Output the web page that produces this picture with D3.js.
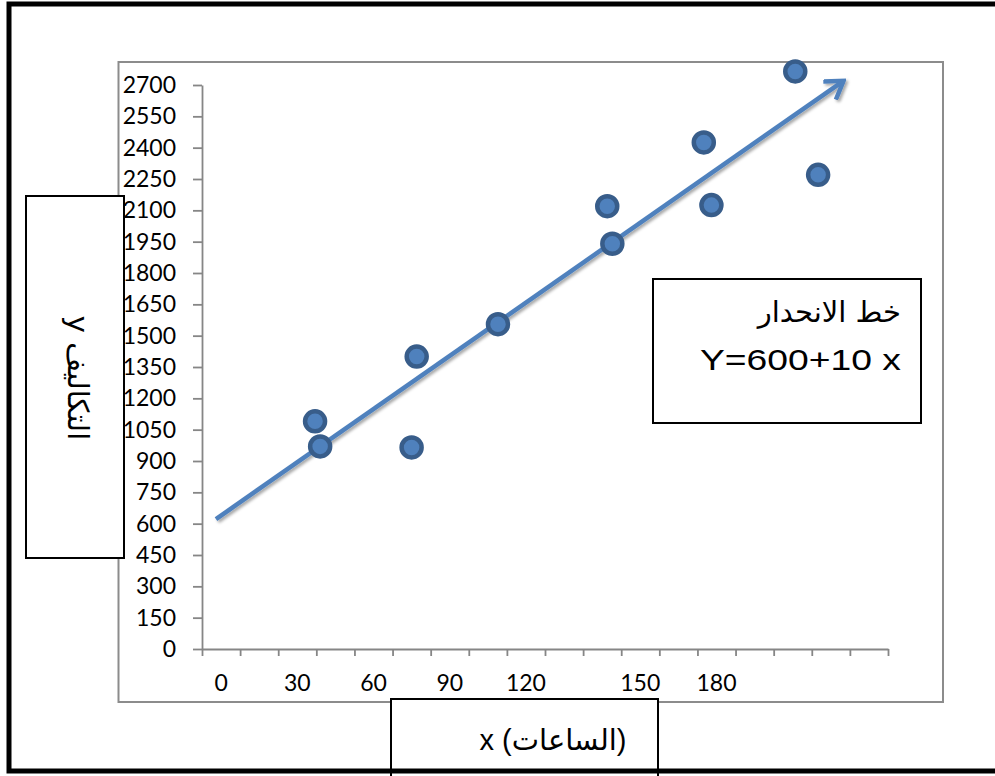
<!DOCTYPE html>
<html>
<head>
    <meta charset="utf-8">
    <title>Scatter with regression line</title>
    <script src="https://d3js.org/d3.v7.min.js"></script>
    <style>
        body { margin: 0; padding: 0; background: #fff; }
    </style>
</head>
<body>
    <div id="chart"></div>

    <script>
// x axis categories as laid out in the original sheet (blank cells included)
const xCategories = ["0", "", "30", "", "60", "", "90", "", "120", "", "", "150", "", "180", "", "", "", ""];

// observations: hours (x) and costs (y)
const hours = [37, 39, 75, 77, 109, 152, 154, 190, 193, 226, 235];
const costs = [1090, 970, 965, 1400, 1555, 2120, 1940, 2425, 2125, 2765, 2270];

// y tick labels
const yTickValues = [0, 150, 300, 450, 600, 750, 900, 1050, 1200, 1350, 1500, 1650, 1800, 1950, 2100, 2250, 2400, 2550, 2700];

// hand-drawn regression arrow: start and end
const trendHours = [-2, 245];
const trendCosts = [622, 2720];

// texts
const equationLines = ["خط الانحدار", "Y=600+10 x"];
const yTitle = "y   التكاليف";
const xTitle = "x (الساعات)";

const width = 995;
const height = 776;

// Plot geometry
const axisLeftX = 202;
const axisRightX = 888;
const axisBottomY = 649;
const axisTopY = 85;

const svg = d3.select("#chart")
  .append("svg")
    .attr("width", width)
    .attr("height", height);

const defs = svg.append("defs");

const shadow = defs.append("filter")
    .attr("id", "shadow")
    .attr("x", "-20%").attr("y", "-20%")
    .attr("width", "140%").attr("height", "140%");
shadow.append("feDropShadow")
    .attr("dx", 2).attr("dy", 2)
    .attr("stdDeviation", 1.5)
    .attr("flood-color", "#000")
    .attr("flood-opacity", 0.35);

defs.append("marker")
    .attr("id", "arrow")
    .attr("viewBox", "0 0 24 24")
    .attr("refX", 21)
    .attr("refY", 12)
    .attr("markerUnits", "userSpaceOnUse")
    .attr("markerWidth", 24)
    .attr("markerHeight", 24)
    .attr("orient", "auto")
  .append("path")
    .attr("d", "M4,1 L21,12 L4,23")
    .attr("fill", "none")
    .attr("stroke", "#4f81bd")
    .attr("stroke-width", 4.5);

// background
svg.append("rect")
    .attr("width", width)
    .attr("height", height)
    .attr("fill", "#fff");

// plot area border
svg.append("rect")
    .attr("x", 118.5)
    .attr("y", 62)
    .attr("width", 824.5)
    .attr("height", 640)
    .attr("fill", "#fff")
    .attr("stroke", "#8c8c8c")
    .attr("stroke-width", 2);

// scales
const x = d3.scaleLinear()
    .domain([-7.5, 262.5])
    .range([axisLeftX, axisRightX]);

const y = d3.scaleLinear()
    .domain([0, 2700])
    .range([axisBottomY, axisTopY]);

const slot = d3.scaleLinear()
    .domain([0, xCategories.length])
    .range([axisLeftX, axisRightX]);

const band = d3.scaleBand()
    .domain(d3.range(xCategories.length))
    .range([axisLeftX, axisRightX]);

const tickFont = "Lato, 'Open Sans', sans-serif";

// y axis
const yAxis = svg.append("g")
    .attr("transform", `translate(${axisLeftX},0)`)
    .call(d3.axisLeft(y)
        .tickValues(yTickValues)
        .tickFormat(d3.format("d"))
        .tickSize(9)
        .tickSizeOuter(0)
        .tickPadding(17));

yAxis.selectAll("text")
    .style("font-family", tickFont)
    .style("font-size", "23px")
    .attr("fill", "#000");

// x axis: tick marks between categories
svg.append("g")
    .attr("transform", `translate(0,${axisBottomY})`)
    .call(d3.axisBottom(slot)
        .tickValues(d3.range(xCategories.length + 1))
        .tickSize(7)
        .tickSizeOuter(0)
        .tickFormat(""));

// x axis: category labels
const xAxisLabels = svg.append("g")
    .attr("transform", `translate(0,${axisBottomY})`)
    .call(d3.axisBottom(band)
        .tickSize(0)
        .tickPadding(26)
        .tickFormat(i => xCategories[i]));
xAxisLabels.select(".domain").remove();
xAxisLabels.selectAll("text")
    .style("font-family", tickFont)
    .style("font-size", "23px")
    .attr("fill", "#000");

svg.selectAll(".domain, .tick line")
    .attr("stroke", "#868686")
    .attr("stroke-width", 1.8);

// regression arrow
const line = d3.line()
    .x(d => x(d[0]))
    .y(d => y(d[1]));

svg.append("path")
    .datum(d3.zip(trendHours, trendCosts))
    .attr("d", line)
    .attr("fill", "none")
    .attr("stroke", "#4f81bd")
    .attr("stroke-width", 4.5)
    .attr("marker-end", "url(#arrow)")
    .attr("filter", "url(#shadow)");

// points
svg.selectAll("circle.pt")
  .data(d3.zip(hours, costs))
  .join("circle")
    .attr("class", "pt")
    .attr("cx", d => x(d[0]))
    .attr("cy", d => y(d[1]))
    .attr("r", 10)
    .attr("fill", "#4f81bd")
    .attr("stroke", "#385d8a")
    .attr("stroke-width", 4.5);

// y title box
svg.append("rect")
    .attr("x", 26)
    .attr("y", 196)
    .attr("width", 98)
    .attr("height", 362)
    .attr("fill", "#fff")
    .attr("stroke", "#000")
    .attr("stroke-width", 2);

svg.append("text")
    .attr("transform", "translate(78,378) rotate(90)")
    .attr("text-anchor", "middle")
    .attr("dominant-baseline", "central")
    .style("font-family", "'DejaVu Sans', 'Liberation Sans', sans-serif")
    .style("font-size", "29px")
    .attr("fill", "#000")
    .text(yTitle);

// x title box
svg.append("rect")
    .attr("x", 391)
    .attr("y", 699)
    .attr("width", 267)
    .attr("height", 90)
    .attr("fill", "#fff")
    .attr("stroke", "#000")
    .attr("stroke-width", 2);

svg.append("text")
    .attr("x", 553)
    .attr("y", 750)
    .attr("text-anchor", "middle")
    .style("font-family", "'Liberation Sans', 'DejaVu Sans', sans-serif")
    .style("font-size", "29px")
    .attr("fill", "#000")
    .text(xTitle);

// equation box
svg.append("rect")
    .attr("x", 653)
    .attr("y", 279)
    .attr("width", 268)
    .attr("height", 144)
    .attr("fill", "#fff")
    .attr("stroke", "#000")
    .attr("stroke-width", 2);

svg.append("text")
    .attr("x", 901)
    .attr("y", 322)
    .attr("text-anchor", "end")
    .style("font-family", "'DejaVu Sans', sans-serif")
    .style("font-size", "29px")
    .attr("fill", "#000")
    .text(equationLines[0]);

svg.append("text")
    .attr("x", 700)
    .attr("y", 370)
    .attr("textLength", 201)
    .attr("lengthAdjust", "spacingAndGlyphs")
    .style("font-family", "'Liberation Sans', Arial, sans-serif")
    .style("font-size", "30px")
    .attr("fill", "#000")
    .text(equationLines[1]);

// outer frame
svg.append("rect")
    .attr("x", 9)
    .attr("y", 4)
    .attr("width", 1000)
    .attr("height", 767)
    .attr("fill", "none")
    .attr("stroke", "#000")
    .attr("stroke-width", 5);
    </script>
</body>
</html>
